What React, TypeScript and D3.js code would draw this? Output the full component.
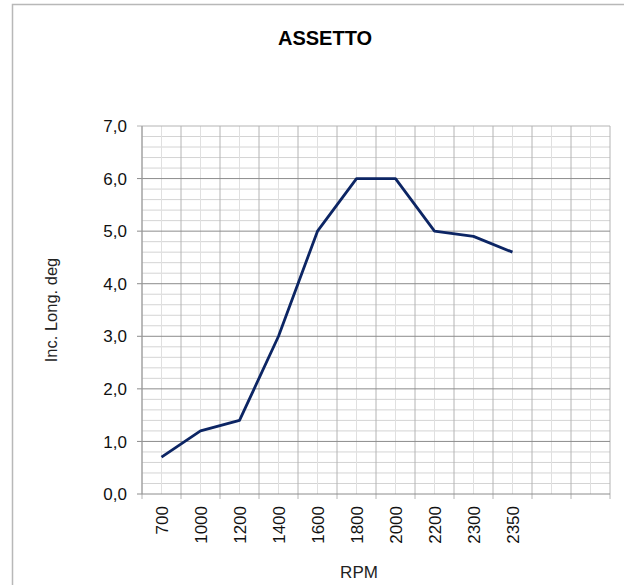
import * as d3 from "d3";

// categorie (RPM) e valori
const rpm = ["700", "1000", "1200", "1400", "1600", "1800", "2000", "2200", "2300", "2350"];
const incLong = [0.7, 1.2, 1.4, 3.0, 5.0, 6.0, 6.0, 5.0, 4.9, 4.6];
// due colonne vuote a destra
const emptySlots = ["_e1", "_e2"];
const yTicks = [0, 1, 2, 3, 4, 5, 6, 7];

const W = 624;
const H = 585;
const plot = { left: 142, right: 610, top: 126, bottom: 494 };
const font = "'Liberation Sans', Arial, sans-serif";

export default function App() {
  const x = d3
    .scaleBand<string>()
    .domain([...rpm, ...emptySlots])
    .range([plot.left, plot.right]);
  const y = d3.scaleLinear().domain([0, 7]).range([plot.bottom, plot.top]);

  const minorY = d3.range(0, 7.0001, 0.2).filter((v) => Math.abs(v - Math.round(v)) > 1e-6);
  const bounds = x.domain().map((d) => x(d)!).concat([plot.right]);
  const centers = x.domain().map((d) => x(d)! + x.bandwidth() / 2);
  const fmt = (v: number) => d3.format(".1f")(v).replace(".", ",");

  const line = d3
    .line<number>()
    .x((_, i) => x(rpm[i])! + x.bandwidth() / 2)
    .y((d) => y(d));

  return (
    <svg
      width={W}
      height={H}
      style={{ position: "absolute", left: 0, top: 0, background: "#fff" }}
      fontFamily={font}
    >
      {/* cornice area grafico */}
      <path d={`M12.5,${H} V4.5 H${W}`} fill="none" stroke="#b8b8b8" strokeWidth={1.5} />

      {/* griglia minore */}
      {minorY.map((v) => (
        <line key={"my" + v} x1={plot.left} x2={plot.right} y1={y(v)} y2={y(v)} stroke="#d4d4d4" />
      ))}
      {centers.map((c, i) => (
        <line key={"mx" + i} x1={c} x2={c} y1={plot.top} y2={plot.bottom} stroke="#e0e0e0" />
      ))}
      {/* griglia principale */}
      {bounds.map((b, i) => (
        <line key={"bx" + i} x1={b} x2={b} y1={plot.top} y2={plot.bottom + 5} stroke="#b4b4b4" />
      ))}
      {yTicks.map((v) => (
        <line
          key={"gy" + v}
          x1={plot.left - 5}
          x2={plot.right}
          y1={y(v)}
          y2={y(v)}
          stroke={v === 7 ? "#b4b4b4" : "#8c8c8c"}
        />
      ))}
      <line x1={plot.left} x2={plot.left} y1={plot.top} y2={plot.bottom} stroke="#9a9a9a" />

      {/* etichette asse Y */}
      {yTicks.map((v) => (
        <text key={"ty" + v} x={127} y={y(v)} dy="0.36em" textAnchor="end" fontSize={17} fill="#111">
          {fmt(v)}
        </text>
      ))}

      {/* etichette asse X */}
      {rpm.map((r) => {
        const cx = x(r)! + x.bandwidth() / 2;
        return (
          <text
            key={"tx" + r}
            transform={`translate(${cx},${506}) rotate(-90)`}
            dy="0.36em"
            textAnchor="end"
            fontSize={17}
            fill="#111"
          >
            {r}
          </text>
        );
      })}

      {/* serie */}
      <path d={line(incLong) ?? ""} fill="none" stroke="#0c2564" strokeWidth={2.8} strokeLinejoin="round" />

      {/* titoli */}
      <text x={325} y={45} textAnchor="middle" fontSize={20} fontWeight="bold" fill="#000">
        ASSETTO
      </text>
      <text x={359} y={578} textAnchor="middle" fontSize={17} fill="#222">
        RPM
      </text>
      <text transform="translate(57,310) rotate(-90)" textAnchor="middle" fontSize={16.5} fill="#222">
        Inc. Long. deg
      </text>
    </svg>
  );
}
